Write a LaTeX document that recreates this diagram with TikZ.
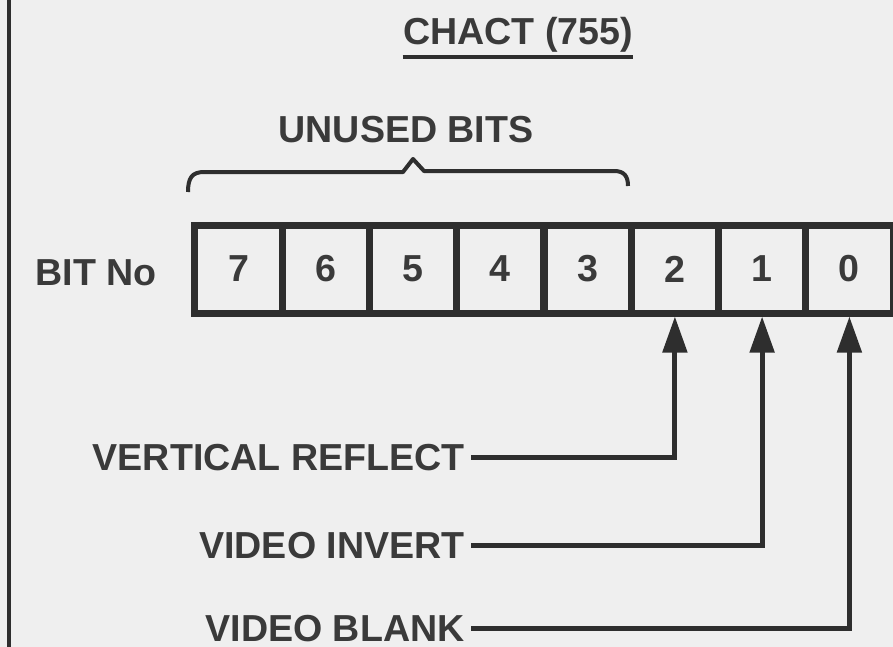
\documentclass[tikz,border=0pt]{standalone}
\usepackage{fontspec}
\setmainfont{Liberation Sans}
\usetikzlibrary{arrows.meta}
\definecolor{ink}{HTML}{2E2E2E}
\definecolor{inktext}{HTML}{3A3A3A}
\definecolor{paper}{HTML}{EFEFEF}
\begin{document}
\begin{tikzpicture}[x=0.5pt,y=-0.5pt,
  txt/.style={font=\fontsize{18.8pt}{20pt}\selectfont\bfseries, text=inktext, inner sep=0pt},
  cell/.style={draw=ink, line width=3.5pt, minimum width=43.625pt, minimum height=44pt,
    inner sep=0pt, font=\fontsize{18.8pt}{20pt}\selectfont\bfseries, text=inktext},
  conn/.style={draw=ink, line width=2.5pt, -{Triangle[length=18pt,width=12pt]}},
  rule/.style={draw=ink, line width=2pt},
  bracepath/.style={draw=ink, line width=2pt, line join=round}]
\useasboundingbox (0,0) rectangle (893,647);
\fill[paper] (0,0) rectangle (893,647);
\begin{scope}
\clip (0,0) rectangle (893,647);
% left frame line
\coordinate (ftop) at (9,0);
\coordinate (fbot) at (9,647);
\draw[rule] (ftop) -- (fbot);
% title
\node[txt, anchor=base] (title) at (518,45) {CHACT (755)};
\draw[rule] ([yshift=-2pt]title.south west) -- ([yshift=-2pt]title.south east);
% unused bits
\node[txt, anchor=base] (unused) at (406,142) {UNUSED BITS};
\draw[bracepath] (188,192) .. controls (188,178) and (192,172) .. (204,172)
  -- (403,172) -- (413,159) -- (424,171) -- (614,171)
  .. controls (624,171) and (628,176) .. (628,186);
% bit no
\node[txt, anchor=base west] (bitno) at (35,285) {BIT No};
% cells
\node[cell] (c7) at (238.6,269) {7};
\node[cell] (c6) at (325.9,269) {6};
\node[cell] (c5) at (413.1,269) {5};
\node[cell] (c4) at (500.4,269) {4};
\node[cell] (c3) at (587.6,269) {3};
\node[cell] (c2) at (674.9,269) {2};
\node[cell] (c1) at (762.1,269) {1};
\node[cell] (c0) at (849.4,269) {0};
% labels
\node[txt, anchor=base east] (vr) at (465,470) {VERTICAL REFLECT};
\node[txt, anchor=base east] (vi) at (465,558) {VIDEO INVERT};
\node[txt, anchor=base east] (vb) at (465,641) {VIDEO BLANK};
\draw[conn] ([xshift=3pt]vr.east) -| (c2.south);
\draw[conn] ([xshift=3pt]vi.east) -| (c1.south);
\draw[conn] ([xshift=3pt]vb.east) -| (c0.south);
\end{scope}
\end{tikzpicture}
\end{document}
